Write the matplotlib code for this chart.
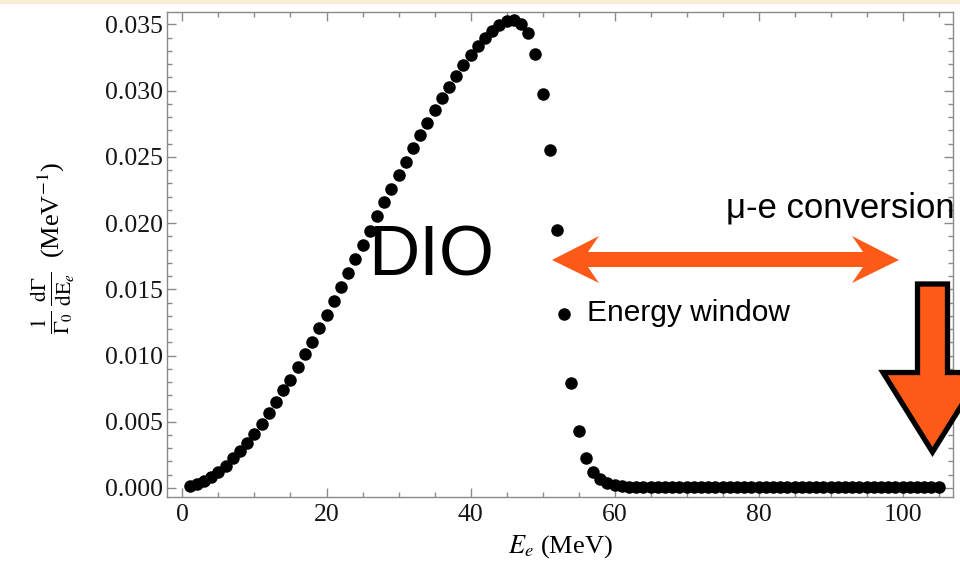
import numpy as np
import matplotlib.pyplot as plt
from matplotlib.patches import Polygon, Rectangle
from matplotlib.ticker import MultipleLocator, FormatStrFormatter

plt.rcParams['mathtext.fontset'] = 'stix'

# DIO electron spectrum, one point per MeV
energy = np.arange(1, 106)
rate = [
    0.00017, 0.00028, 0.00053, 0.00085, 0.00123, 0.00168, 0.00224, 0.00281, 0.00342, 0.00407,
    0.00485, 0.00563, 0.00646, 0.00737, 0.00817, 0.00915, 0.01008, 0.01103, 0.01204, 0.01307,
    0.01410, 0.01514, 0.01621, 0.01725, 0.01833, 0.01940, 0.02054, 0.02160, 0.02260, 0.02365,
    0.02464, 0.02567, 0.02662, 0.02755, 0.02853, 0.02941, 0.03029, 0.03109, 0.03192, 0.03268,
    0.03336, 0.03399, 0.03446, 0.03494, 0.03522, 0.03535, 0.03504, 0.03437, 0.03275, 0.02974,
    0.02549, 0.01951, 0.01317, 0.00794, 0.00432, 0.00229, 0.00123, 0.00066, 0.00035, 0.00020,
    0.00012, 0.00009, 0.00007, 0.00006, 0.00005, 0.00005, 0.00005, 0.00005, 0.00005, 0.00005,
    0.00005, 0.00005, 0.00005, 0.00005, 0.00005, 0.00005, 0.00005, 0.00005, 0.00005, 0.00005,
    0.00005, 0.00005, 0.00005, 0.00005, 0.00005, 0.00005, 0.00005, 0.00005, 0.00005, 0.00005,
    0.00005, 0.00005, 0.00005, 0.00005, 0.00005, 0.00005, 0.00005, 0.00005, 0.00005, 0.00005,
    0.00005, 0.00005, 0.00005, 0.00005, 0.00005,
]

W, H = 960, 564
orange = '#fe5a17'
gray = '#8a8a8a'
serif = 'Liberation Serif'
sans = 'Liberation Sans'


def fx(x, y):
    # pixel position (from top-left) -> figure fraction
    return (x / W, 1 - y / H)


fig = plt.figure(figsize=(9.6, 5.64), dpi=100)
fig.patches.append(Rectangle((0, 1 - 3 / H), 1, 3 / H, transform=fig.transFigure,
                             color='#fbeed8', zorder=0))

ax = fig.add_axes([167 / W, 1 - 497 / H, (953 - 167) / W, (497 - 12) / H])
ax.plot(energy, rate, 'o', color='black', markersize=8, zorder=3)

ax.set_xlim(-2.15, 107.0)
ax.set_ylim(-0.00068, 0.03593)
ax.xaxis.set_major_locator(MultipleLocator(20))
ax.xaxis.set_minor_locator(MultipleLocator(5))
ax.yaxis.set_major_locator(MultipleLocator(0.005))
ax.yaxis.set_minor_locator(MultipleLocator(0.001))
ax.yaxis.set_major_formatter(FormatStrFormatter('%.3f'))

for s in ax.spines.values():
    s.set_color(gray)
    s.set_linewidth(1.0)
ax.tick_params(which='both', direction='in', top=True, right=True, color=gray, width=1.0)
ax.tick_params(which='major', length=6.5)
ax.tick_params(which='minor', length=3.6)
ax.tick_params(axis='y', pad=3)
ax.tick_params(axis='x', pad=5)
for lab in ax.get_xticklabels() + ax.get_yticklabels():
    lab.set_fontfamily(serif)
    lab.set_fontsize(18.5)
    lab.set_color('#151515')

ax.set_xlabel(r'$E_e$ (MeV)', fontsize=19, fontfamily=serif, labelpad=5)

# y label: fraction part and unit part, both rotated
fig.text(*fx(53, 303), r'$\frac{1}{\Gamma_0}\,\frac{\mathrm{d\Gamma}}{\mathrm{dE}_e}$',
         fontsize=22, rotation=90, ha='center', va='center')
fig.text(*fx(51, 210), r'(MeV$^{-1}$)', fontsize=19, fontfamily=serif,
         rotation=90, ha='center', va='center')

# annotations
fig.text(*fx(368, 276), 'DIO', fontsize=51, fontfamily=sans,
         va='baseline', ha='left', zorder=5)
fig.text(*fx(726, 217), 'μ-e conversion', fontsize=25, fontfamily=sans,
         va='baseline', ha='left', zorder=5)
fig.text(*fx(587, 321), 'Energy window', fontsize=21.5, fontfamily=sans,
         va='baseline', ha='left', zorder=5)

double_arrow = [(552, 260), (599, 236), (588, 252), (863, 252), (852, 236), (899, 260),
                (852, 283), (863, 267), (588, 267), (599, 283)]
fig.patches.append(Polygon([fx(x, y) for x, y in double_arrow], closed=True,
                           transform=fig.transFigure, facecolor=orange, edgecolor='none',
                           zorder=6))

down_arrow = [(917.5, 284), (947.5, 284), (947.5, 372.5), (982, 372.5), (932.5, 452),
              (883, 372.5), (917.5, 372.5)]
fig.patches.append(Polygon([fx(x, y) for x, y in down_arrow], closed=True,
                           transform=fig.transFigure, facecolor=orange, edgecolor='black',
                           linewidth=3.8, joinstyle='miter', zorder=6))

fig.savefig('out.png', dpi=100)
